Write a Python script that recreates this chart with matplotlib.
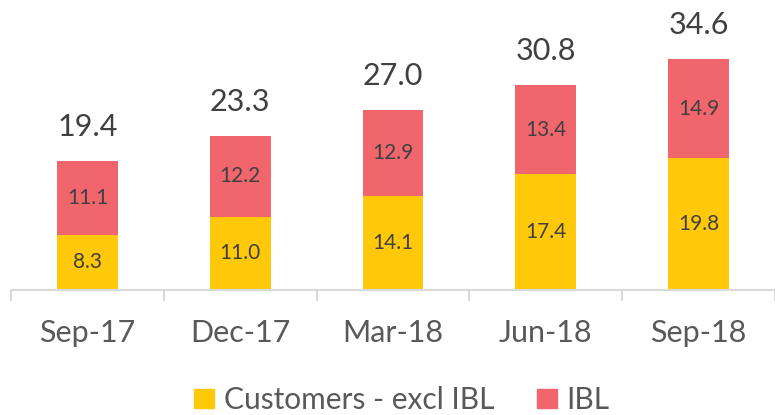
import matplotlib
matplotlib.use("Agg")
import matplotlib.pyplot as plt
from matplotlib.patches import Patch

categories = ["Sep-17", "Dec-17", "Mar-18", "Jun-18", "Sep-18"]
customers = [8.3, 11.0, 14.1, 17.4, 19.8]
ibl = [11.1, 12.2, 12.9, 13.4, 14.9]
totals = [19.4, 23.3, 27.0, 30.8, 34.6]
series_names = ["Customers - excl IBL", "IBL"]

YELLOW = "#FFC808"
RED = "#F0666C"
TXT = "#404040"
TXT2 = "#595959"
GRID = "#D9D9D9"

plt.rcParams['font.family'] = ['Lato', 'DejaVu Sans']

W, H = 775, 415
fig = plt.figure(figsize=(W / 100, H / 100), dpi=100)
left_px, right_px = 11, 775
bottom_px = 290
top_px = 24
ax = fig.add_axes([left_px / W, (H - bottom_px) / H, (right_px - left_px) / W, (bottom_px - top_px) / H])

x = list(range(len(categories)))
bw = 61 / 153.3
ax.bar(x, customers, width=bw, color=YELLOW, label=series_names[0], zorder=2)
ax.bar(x, ibl, width=bw, bottom=customers, color=RED, label=series_names[1], zorder=2)

ax.set_xlim(-0.5, -0.5 + (right_px - left_px) / 153.3)
ax.set_ylim(0, (bottom_px - top_px) / 6.65)

for i in x:
    ax.text(i, customers[i] / 2, f"{customers[i]:.1f}", ha="center", va="center",
            fontsize=15, color=TXT)
    ax.text(i, customers[i] + ibl[i] / 2, f"{ibl[i]:.1f}", ha="center", va="center",
            fontsize=15, color=TXT)
    ax.annotate(f"{totals[i]:.1f}", (i, customers[i] + ibl[i]), xytext=(0, 25),
                textcoords="offset pixels", ha="center", va="baseline",
                fontsize=22, color=TXT, annotation_clip=False)

for s in ["top", "right", "left"]:
    ax.spines[s].set_visible(False)
ax.spines["bottom"].set_color(GRID)
ax.spines["bottom"].set_linewidth(1.5)
ax.set_yticks([])

ax.set_xticks([i - 0.5 for i in range(len(categories) + 1)])
ax.set_xticklabels([])
ax.tick_params(axis="x", which="major", length=8, color=GRID, width=1.5)
ax.set_xticks(x, minor=True)
ax.set_xticklabels(categories, minor=True, fontsize=22, color=TXT2)
ax.tick_params(axis="x", which="minor", length=0, pad=21)

handles = [Patch(color=YELLOW), Patch(color=RED)]
fig.legend(handles, series_names, loc="center", bbox_to_anchor=(402 / W, (H - 400) / H),
           ncol=2, frameon=False, fontsize=21.5, labelcolor=TXT2,
           handlelength=0.65, handleheight=0.65, handletextpad=0.33, columnspacing=1.45,
           borderpad=0, borderaxespad=0)

fig.savefig("out.png", dpi=100)
